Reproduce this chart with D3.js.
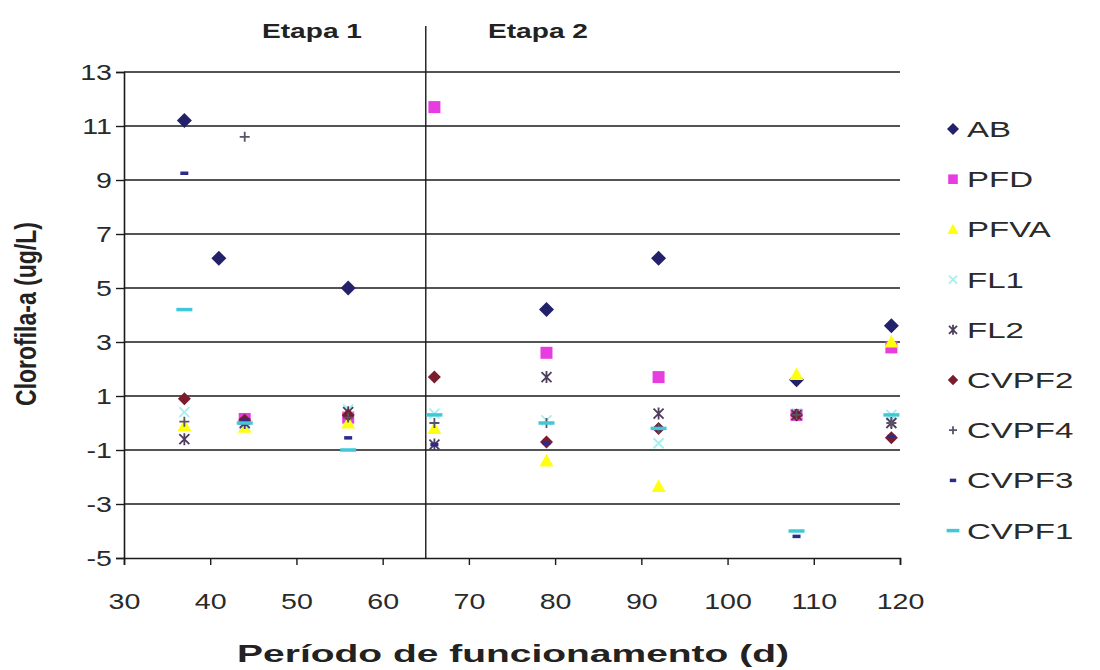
<!DOCTYPE html>
<html><head><meta charset="utf-8">
<script src="https://cdn.jsdelivr.net/npm/d3@7"></script>
<style>body{margin:0;background:#fff}svg{display:block}text{font-family:"Liberation Sans",Arial,sans-serif}</style>
</head><body><svg id="c" width="1100" height="670"></svg>
<script>
const seriesNames = ["AB","PFD","PFVA","FL1","FL2","CVPF2","CVPF4","CVPF3","CVPF1"];
const seriesColors = ["#22216a","#e63ce0","#ffff10","#a8eeee","#4e3e5e","#7b1c2e","#555566","#2b2b8a","#40c8d8"];
const xAB = [37,41,56,79,92,108,119];
const yAB = [11.2,6.1,5.0,4.2,6.1,1.6,3.6];
const xPFD = [44,56,66,79,92,108,119];
const yPFD = [0.15,0.2,11.7,2.6,1.7,0.3,2.8];
const days = [37,44,56,66,79,92,108,119];
const yPFVA = [-0.1,-0.15,0.0,-0.2,-1.4,-2.35,1.8,3.0];
const yFL1 = [0.4,-0.05,0.5,0.35,0.1,-0.75,0.35,0.3];
const yFL2 = [-0.6,0.0,0.4,-0.8,1.7,0.35,0.3,0.0];
const yCVPF2 = [0.9,0.1,0.3,1.7,-0.7,-0.2,0.3,-0.55];
const xCVPF4 = [37,44,56,66,79,92,108,119];
const yCVPF4 = [0.05,10.6,0.2,0.0,0.0,-0.2,0.3,0.0];
const yCVPF3 = [9.25,0.1,-0.55,-0.8,-0.75,-0.2,-4.2,-0.5];
const yCVPF1 = [4.2,0.0,-1.0,0.3,0.0,-0.2,-4.0,0.3];
const xTicks = [30,40,50,60,70,80,90,100,110,120];
const yTicks = [-5,-3,-1,1,3,5,7,9,11,13];
const stageDivider = 65;
const stageLabels = ["Etapa 1","Etapa 2"];
const xTitle = "Período de funcionamento (d)";
const yTitle = "Clorofila-a (ug/L)";

const series = [
  {x:xAB,y:yAB,m:"diamond"},
  {x:xPFD,y:yPFD,m:"square"},
  {x:days,y:yPFVA,m:"triangle"},
  {x:days,y:yFL1,m:"x"},
  {x:days,y:yFL2,m:"star"},
  {x:days,y:yCVPF2,m:"smalldiamond"},
  {x:xCVPF4,y:yCVPF4,m:"plus"},
  {x:days,y:yCVPF3,m:"dash"},
  {x:days,y:yCVPF1,m:"longdash"}
].map((s,i)=>({...s,name:seriesNames[i],color:seriesColors[i]}));

const L=124,R=900,T=72,B=558;
const SX=1.4;
const x=d3.scaleLinear().domain([30,120]).range([L,R]);
const y=d3.scaleLinear().domain([-5,13]).range([B,T]);
const svg=d3.select("#c");

function placeText(px,py,str,opts){
  const t=svg.append("text").attr("font-size",opts.size).attr("fill",opts.fill||"#2a2a2a")
    .attr("font-weight",opts.bold?"bold":"normal").attr("text-anchor",opts.anchor||"start").text(str);
  let sx=opts.sx||SX;
  if(opts.width){ sx=opts.width/t.node().getComputedTextLength(); }
  t.attr("transform",`translate(${px},${py}) ${opts.rotate?"scale("+sx+",1) rotate(-90)":"scale("+sx+",1)"}`);
  return t;
}

// gridlines
svg.append("g").selectAll("line").data(yTicks.filter(v=>v>-5)).join("line")
  .attr("x1",L).attr("x2",R).attr("y1",d=>y(d)).attr("y2",d=>y(d))
  .attr("stroke","#1a1a1a").attr("stroke-width",1.6);

// axes
const fmt=d=>String(d);
const ya=svg.append("g").attr("transform",`translate(${L},0)`)
  .call(d3.axisLeft(y).tickValues(yTicks).tickFormat(fmt).tickSize(8).tickPadding(6));
const xa=svg.append("g").attr("transform",`translate(0,${B})`)
  .call(d3.axisBottom(x).tickValues(xTicks).tickFormat(fmt).tickSize(7).tickPadding(28));
[ya,xa].forEach(g=>{
  g.select(".domain").attr("stroke","#1a1a1a").attr("stroke-width",1.6);
  g.selectAll(".tick line").attr("stroke","#1a1a1a").attr("stroke-width",1.4);
  g.selectAll("text").attr("font-size",22).attr("fill","#2a2a2a");
});
ya.selectAll(".tick text").attr("x",-12/1.3).attr("transform","scale(1.3,1)");
xa.selectAll(".tick text").attr("transform","scale(1.3,1)");

// stage divider
svg.append("line").attr("x1",x(stageDivider)).attr("x2",x(stageDivider))
  .attr("y1",26).attr("y2",B).attr("stroke","#1a1a1a").attr("stroke-width",1.4);
placeText(312,38,stageLabels[0],{size:20,bold:true,anchor:"middle",width:100,fill:"#222"});
placeText(538,38,stageLabels[1],{size:20,bold:true,anchor:"middle",width:100,fill:"#222"});

// titles
placeText(513,662,xTitle,{size:23,bold:true,anchor:"middle",width:552,fill:"#222"});
placeText(36,314,yTitle,{size:23,bold:true,anchor:"middle",rotate:true,sx:1.3,fill:"#222"});

function drawMarker(g,m,color,s){
  s=s||1;
  let d, filled=true;
  if(m==="diamond"){const a=7.5*s; d=`M0,${-a}L${a},0L0,${a}L${-a},0Z`;}
  else if(m==="smalldiamond"){const a=6.5*s; d=`M0,${-a}L${a},0L0,${a}L${-a},0Z`;}
  else if(m==="square"){const a=6*s; d=`M${-a},${-a}H${a}V${a}H${-a}Z`;}
  else if(m==="triangle"){const a=7*s; d=`M0,${-a}L${a},${a*0.8}L${-a},${a*0.8}Z`;}
  else {
    filled=false;
    const a=5*s;
    if(m==="x") d=`M${-a},${-a}L${a},${a}M${-a},${a}L${a},${-a}`;
    else if(m==="star") d=`M${-a},${-a}L${a},${a}M${-a},${a}L${a},${-a}M0,${-a-1}L0,${a+1}`;
    else if(m==="plus") d=`M${-a},0L${a},0M0,${-a}L0,${a}`;
    else if(m==="dash") d=`M${-4*s},0L${4*s},0`;
    else if(m==="longdash") d=`M${-8*s},0L${8*s},0`;
  }
  const p=g.append("path").attr("d",d);
  if(filled) p.attr("fill",color);
  else p.attr("stroke",color).attr("fill","none")
      .attr("stroke-width",m==="dash"||m==="longdash"?3.5:1.8);
}

// points
series.forEach(s=>{
  const g=svg.append("g");
  s.x.forEach((xv,i)=>{
    const mg=g.append("g").attr("transform",`translate(${x(xv)},${y(s.y[i])})`);
    drawMarker(mg,s.m,s.color,1);
  });
});

// legend
series.forEach((s,i)=>{
  const yy=129+i*50.2;
  const mg=svg.append("g").attr("transform",`translate(953,${yy})`);
  drawMarker(mg,s.m,s.color,0.8);
  placeText(967,yy+8,s.name,{size:22,sx:1.5});
});
</script></body></html>
